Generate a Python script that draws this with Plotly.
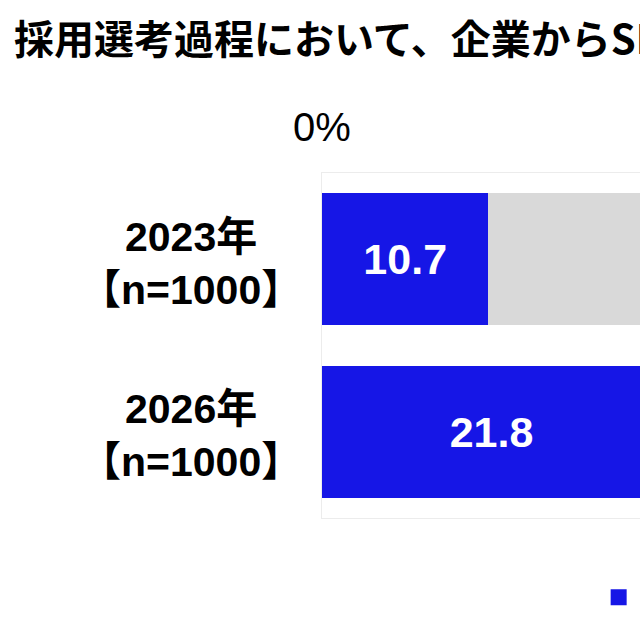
import plotly.graph_objects as go

# ---- data ----
title_text = "採用選考過程において、企業からSNSアカウントの提示を求められたことがあるか"
years = ["2023年", "2026年"]
sample_sizes = ["【n=1000】", "【n=1000】"]
series_names = ["ある", "ない"]
yes_values = [10.7, 21.8]
no_values = [89.3, 78.2]
x_tick_vals = [0]
x_tick_text = ["0%"]

BLUE = "#1616e6"
GRAY = "#d9d9d9"
LATIN = "Liberation Sans, Arial, Noto Sans CJK JP, sans-serif"
CJK = "Noto Sans CJK JP, sans-serif"
colors = [BLUE, GRAY]

cats = [f"{y}<br>{n}" for y, n in zip(years, sample_sizes)]

fig = go.Figure()
fig.add_trace(go.Bar(
    y=cats, x=yes_values, orientation="h", name=series_names[0],
    marker=dict(color=BLUE, line=dict(width=0)),
    text=[f"<b>{v:.1f}</b>" for v in yes_values], textposition="inside",
    insidetextanchor="middle",
    textfont=dict(color="white", size=43, family=LATIN),
    width=0.765, showlegend=False, legendgroup=series_names[0],
))
fig.add_trace(go.Bar(
    y=cats, x=no_values, orientation="h", name=series_names[1],
    marker=dict(color=GRAY, line=dict(width=0)),
    width=0.765, textposition="none", showlegend=False,
    legendgroup=series_names[1],
))
# legend entries (larger square swatches, as in the reference)
for name, col in zip(series_names, colors):
    fig.add_trace(go.Scatter(
        x=[None], y=[None], mode="markers", name=name, legendgroup=name,
        marker=dict(symbol="square", size=18, color=col),
        hoverinfo="skip",
    ))

annotations = []
for c in cats:
    annotations.append(dict(
        xref="paper", yref="y", x=-0.412, y=c, text=f"<b>{c}</b>", showarrow=False,
        xanchor="center", yanchor="middle", align="center", yshift=-4,
        font=dict(size=41, color="black", family=LATIN),
    ))

fig.update_layout(
    width=640, height=640,
    margin=dict(l=322, r=0, t=173, b=122, autoexpand=False),
    paper_bgcolor="white", plot_bgcolor="white",
    barmode="stack",
    showlegend=True,
    title=dict(
        text=f"<b>{title_text}</b>", xref="container", yref="container",
        x=14 / 640, xanchor="left", y=1 - 40 / 640, yanchor="middle",
        font=dict(size=40, color="black", family=CJK),
    ),
    legend=dict(
        orientation="h", x=0.87, xanchor="left", y=-0.23, yanchor="middle",
        font=dict(size=36, color="black", family=CJK),
        traceorder="normal", bgcolor="rgba(0,0,0,0)",
    ),
    annotations=annotations,
    font=dict(family=LATIN),
)
fig.update_xaxes(
    range=[0, 20.45], side="top", tickvals=x_tick_vals, ticktext=x_tick_text,
    ticks="", ticklabelstandoff=15, showgrid=False, zeroline=False,
    tickfont=dict(size=40, color="black", family=LATIN),
    showline=True, mirror=True, linecolor="#ececec", linewidth=1,
)
fig.update_yaxes(
    categoryorder="array", categoryarray=cats, autorange="reversed",
    showticklabels=False, ticks="", showgrid=False, zeroline=False,
    showline=True, mirror=True, linecolor="#ececec", linewidth=1,
)

fig.write_html("out.html")
